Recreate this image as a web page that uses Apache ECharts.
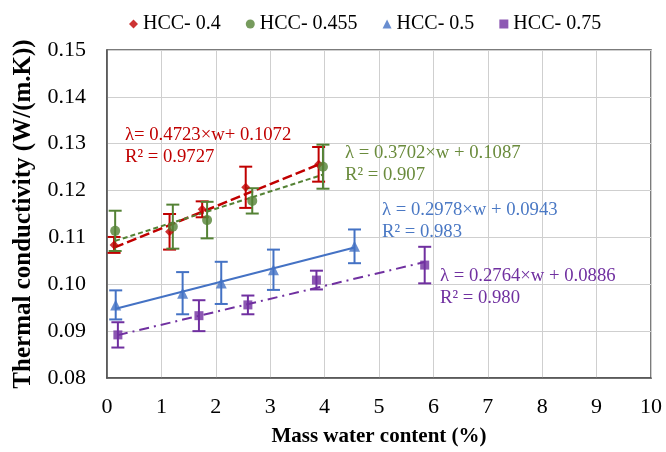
<!DOCTYPE html>
<html>
<head>
<meta charset="utf-8">
<script src="https://cdn.jsdelivr.net/npm/echarts@6/dist/echarts.min.js"></script>
<style>
  html, body { margin: 0; padding: 0; background: #fff; }
  #chart { width: 666px; height: 452px; }
</style>
</head>
<body>
<div id="chart"></div>
<script>
// Measured thermal conductivity vs. mass water content for four HCC mixes
const seriesNames = ['HCC- 0.4', 'HCC- 0.455', 'HCC- 0.5', 'HCC- 0.75'];

const water04 = [0.13, 1.15, 1.75, 2.55, 3.89];
const lambda04 = [0.1084, 0.1112, 0.1160, 0.1207, 0.1256];
const err04 = [0.0017, 0.0038, 0.0017, 0.0044, 0.0037];

const water0455 = [0.15, 1.21, 1.84, 2.67, 3.97];
const lambda0455 = [0.1114, 0.1123, 0.1137, 0.1178, 0.1251];
const err0455 = [0.0043, 0.0047, 0.0039, 0.0027, 0.0047];

const water05 = [0.16, 1.39, 2.10, 3.06, 4.55];
const lambda05 = [0.0956, 0.0981, 0.1003, 0.1031, 0.1081];
const err05 = [0.0031, 0.0045, 0.0045, 0.0043, 0.0036];

const water075 = [0.20, 1.69, 2.59, 3.85, 5.84];
const lambda075 = [0.0892, 0.0933, 0.0956, 0.1009, 0.1041];
const err075 = [0.0027, 0.0033, 0.0020, 0.0020, 0.0039];

// Linear fits λ = a·w + b, with w as a mass fraction
const fitSlope = [0.4723, 0.3702, 0.2978, 0.2764];
const fitIntercept = [0.1072, 0.1087, 0.0943, 0.0886];
const fitEquation = [
  'λ= 0.4723×w+ 0.1072\nR² = 0.9727',
  'λ = 0.3702×w + 0.1087\nR² = 0.907',
  'λ = 0.2978×w + 0.0943\nR² = 0.983',
  'λ = 0.2764×w + 0.0886\nR² = 0.980'
];

const xTicks = [0, 1, 2, 3, 4, 5, 6, 7, 8, 9, 10];
const yTicks = [0.08, 0.09, 0.10, 0.11, 0.12, 0.13, 0.14, 0.15];

const groups = [
  { x: water04, y: lambda04, e: err04 },
  { x: water0455, y: lambda0455, e: err0455 },
  { x: water05, y: lambda05, e: err05 },
  { x: water075, y: lambda075, e: err075 }
];

const FONT = '"Liberation Serif", "Times New Roman", serif';
const colors = ['#C00000', '#548235', '#4472C4', '#7030A0'];
const labelColors = ['#C00000', '#6A8B3C', '#4A78C4', '#7030A0'];
const symbols = ['diamond', 'circle', 'triangle', 'rect'];
const symbolSizes = [9, 10, 11, 9];
const trendTypes = [[10, 4], [5, 3], 'solid', [10, 5, 2, 5]];
const trendWidths = [2.5, 2, 2, 2];
const labelPos = [[125, 124], [345, 142], [382, 199], [440, 265]];

const series = [];
groups.forEach((g, i) => {
  // fitted trend line across the measured range
  const x0 = g.x[0], x1 = g.x[g.x.length - 1];
  series.push({
    type: 'line',
    silent: true,
    symbol: 'none',
    data: [x0, x1].map(w => [w, fitSlope[i] * w / 100 + fitIntercept[i]]),
    lineStyle: { color: colors[i], width: trendWidths[i], type: trendTypes[i] },
    z: 2
  });
  // standard-deviation error bars
  series.push({
    type: 'custom',
    silent: true,
    data: g.x.map((w, k) => [w, g.y[k] - g.e[k], g.y[k] + g.e[k]]),
    encode: { x: 0, y: [1, 2] },
    renderItem: function (params, api) {
      const top = api.coord([api.value(0), api.value(2)]);
      const bot = api.coord([api.value(0), api.value(1)]);
      const c = 6.5;
      const st = { stroke: colors[i], lineWidth: 2 };
      return {
        type: 'group',
        children: [
          { type: 'line', shape: { x1: top[0], y1: top[1], x2: bot[0], y2: bot[1] }, style: st },
          { type: 'line', shape: { x1: top[0] - c, y1: top[1], x2: top[0] + c, y2: top[1] }, style: st },
          { type: 'line', shape: { x1: bot[0] - c, y1: bot[1], x2: bot[0] + c, y2: bot[1] }, style: st }
        ]
      };
    },
    z: 3
  });
  // measured points
  series.push({
    name: seriesNames[i],
    type: 'scatter',
    symbol: symbols[i],
    symbolSize: symbolSizes[i],
    itemStyle: { color: colors[i] },
    data: g.x.map((w, k) => [w, g.y[k]]),
    z: 4
  });
});

const chart = echarts.init(document.getElementById('chart'));
chart.setOption({
  animation: false,
  backgroundColor: '#fff',
  grid: {
    left: 107, right: 15, top: 50, bottom: 74,
    show: true, borderColor: '#505050', borderWidth: 1.5
  },
  legend: {
    data: seriesNames.map((n, i) => ({ name: n, icon: symbols[i] })),
    left: 124,
    top: 9,
    itemWidth: 9,
    itemHeight: 9,
    itemGap: 25,
    textStyle: { fontFamily: FONT, fontSize: 20, color: '#000' }
  },
  xAxis: {
    type: 'value',
    min: xTicks[0],
    max: xTicks[xTicks.length - 1],
    interval: 1,
    name: 'Mass water content (%)',
    nameLocation: 'middle',
    nameGap: 48,
    nameTextStyle: { fontFamily: FONT, fontSize: 21, fontWeight: 'bold', color: '#000' },
    axisLine: { lineStyle: { color: '#505050', width: 1.5 } },
    axisTick: { show: false },
    axisLabel: { fontFamily: FONT, fontSize: 22, color: '#000', margin: 18 },
    splitLine: { lineStyle: { color: '#cfcfcf', width: 1 } }
  },
  yAxis: {
    type: 'value',
    min: yTicks[0],
    max: yTicks[yTicks.length - 1],
    interval: 0.01,
    name: 'Thermal conductivity (W/(m.K))',
    nameLocation: 'middle',
    nameGap: 71,
    nameTextStyle: { fontFamily: FONT, fontSize: 25, fontWeight: 'bold', color: '#000' },
    axisLine: { lineStyle: { color: '#505050', width: 1.5 } },
    axisTick: { show: false },
    axisLabel: {
      fontFamily: FONT, fontSize: 22, color: '#000', margin: 21,
      formatter: v => v.toFixed(2)
    },
    splitLine: { lineStyle: { color: '#cfcfcf', width: 1 } }
  },
  graphic: fitEquation.map((t, i) => ({
    type: 'text',
    left: labelPos[i][0],
    top: labelPos[i][1],
    z: 10,
    style: {
      text: t,
      fill: labelColors[i],
      font: '18.7px ' + FONT,
      lineHeight: 22
    }
  })),
  series: series
});
</script>
</body>
</html>
